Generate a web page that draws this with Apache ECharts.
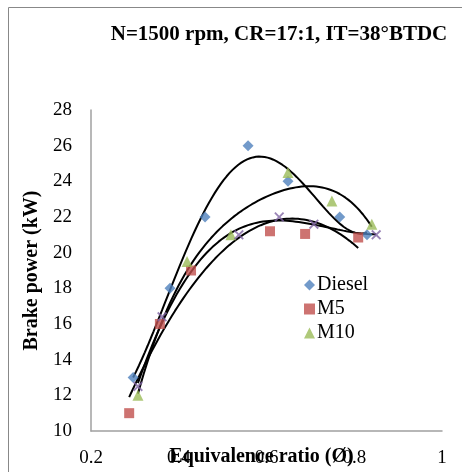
<!DOCTYPE html>
<html>
<head>
<meta charset="utf-8">
<script src="https://cdn.jsdelivr.net/npm/echarts@6/dist/echarts.min.js"></script>
<style>html,body{margin:0;padding:0;background:#fff}#c{width:462px;height:472px}</style>
</head>
<body>
<div id="c"></div>
<script>
var xTicks = ['0.2', '0.4', '0.6', '0.8', '1'];
var yTicks = ['10', '12', '14', '16', '18', '20', '22', '24', '26', '28'];
var dieselX = [0.296, 0.38, 0.46, 0.558, 0.649, 0.767, 0.829];
var dieselY = [13.0, 18.0, 22.0, 26.0, 24.0, 22.0, 21.0];
var m5X = [0.287, 0.357, 0.428, 0.608, 0.688, 0.809];
var m5Y = [11.0, 16.0, 19.0, 21.2, 21.05, 20.85];
var m10X = [0.307, 0.419, 0.519, 0.649, 0.749, 0.84];
var m10Y = [12.0, 19.5, 21.0, 24.5, 22.9, 21.6];
var m15X = [0.307, 0.362, 0.537, 0.629, 0.708, 0.85];
var m15Y = [12.5, 16.4, 21.0, 22.0, 21.6, 21.0];

function polyfit(xs, ys, deg) {
  var n = deg + 1, A = [], i, j, k;
  for (i = 0; i < n; i++) { A.push([]); for (j = 0; j <= n; j++) A[i].push(0); }
  for (k = 0; k < xs.length; k++) {
    for (i = 0; i < n; i++) {
      for (j = 0; j < n; j++) A[i][j] += Math.pow(xs[k], i + j);
      A[i][n] += ys[k] * Math.pow(xs[k], i);
    }
  }
  for (i = 0; i < n; i++) {
    var p = i;
    for (j = i + 1; j < n; j++) if (Math.abs(A[j][i]) > Math.abs(A[p][i])) p = j;
    var t = A[i]; A[i] = A[p]; A[p] = t;
    for (j = i + 1; j < n; j++) {
      var f = A[j][i] / A[i][i];
      for (k = i; k <= n; k++) A[j][k] -= f * A[i][k];
    }
  }
  var c = new Array(n);
  for (i = n - 1; i >= 0; i--) {
    var s = A[i][n];
    for (j = i + 1; j < n; j++) s -= A[i][j] * c[j];
    c[i] = s / A[i][i];
  }
  return c;
}
function trend(xs, ys, deg) {
  var c = polyfit(xs, ys, deg), out = [], a = Math.min.apply(null, xs), b = Math.max.apply(null, xs);
  for (var i = 0; i <= 80; i++) {
    var x = a + (b - a) * i / 80, y = 0;
    for (var j = 0; j < c.length; j++) y += c[j] * Math.pow(x, j);
    out.push([x, y]);
  }
  return out;
}
function pts(xs, ys) { return xs.map(function (x, i) { return [x, ys[i]]; }); }

var font = 'Liberation Serif';
var xPath = 'path://M0,1.3L1.3,0L5,3.7L8.7,0L10,1.3L6.3,5L10,8.7L8.7,10L5,6.3L1.3,10L0,8.7L3.7,5Z';
var chart = echarts.init(document.getElementById('c'));
function lineS(d, col) {
  return { type: 'line', data: d, showSymbol: false, symbol: 'none', silent: true,
    lineStyle: { color: col || '#000', width: 2 }, z: 1 };
}
chart.setOption({
  animation: false,
  title: { text: 'N=1500 rpm, CR=17:1, IT=38°BTDC', left: 274, top: 19, textAlign: 'center',
    textStyle: { fontFamily: font, fontSize: 21, fontWeight: 'bold', color: '#000' } },
  graphic: [{ type: 'rect', shape: { x: 8.5, y: 7.5, width: 470, height: 480 },
    style: { fill: 'none', stroke: '#888', lineWidth: 1 }, silent: true }],
  grid: { left: 91, right: 20, top: 110, bottom: 41, containLabel: false, outerBoundsMode: 'none' },
  legend: { orient: 'vertical', left: 299, top: 270, itemGap: 4, itemWidth: 11, itemHeight: 11,
    data: [{ name: 'Diesel', icon: 'diamond' }, { name: 'M5', icon: 'rect' }, { name: 'M10', icon: 'triangle' }],
    textStyle: { fontFamily: font, fontSize: 20, color: '#000', padding: [0, 0, 0, -3] } },
  xAxis: { type: 'value', min: 0.2, max: 1, interval: 0.2,
    name: 'Equivalence ratio (Ø)', nameLocation: 'middle', nameGap: 16, nameMoveOverlap: false,
    nameTextStyle: { fontFamily: font, fontSize: 20, fontWeight: 'bold', color: '#000', padding: [0, 10, 0, 0] },
    axisLine: { lineStyle: { color: '#A0A0A0', width: 1.5 } }, axisTick: { show: false }, splitLine: { show: false },
    axisLabel: { fontFamily: font, fontSize: 19, color: '#000', margin: 18,
      formatter: function (v) { var s = (Math.round(v * 10) / 10).toString(); return xTicks.indexOf(s) >= 0 ? s : ''; } } },
  yAxis: { type: 'value', min: 10, max: 28, interval: 2,
    name: 'Brake power (kW)', nameLocation: 'middle', nameGap: 49, nameMoveOverlap: false,
    nameTextStyle: { fontFamily: font, fontSize: 20, fontWeight: 'bold', color: '#000' },
    axisLine: { show: true, lineStyle: { color: '#A0A0A0', width: 1.5 } }, axisTick: { show: false }, splitLine: { show: false },
    axisLabel: { fontFamily: font, fontSize: 19, color: '#000', margin: 19,
      formatter: function (v) { var s = String(Math.round(v)); return yTicks.indexOf(s) >= 0 ? s : ''; } } },
  series: [
    { name: 'Diesel', type: 'scatter', data: pts(dieselX, dieselY), symbol: 'diamond', symbolSize: 11, itemStyle: { color: '#4F81BD' }, z: 3 },
    { name: 'M5', type: 'scatter', data: pts(m5X, m5Y), symbol: 'rect', symbolSize: 10, itemStyle: { color: '#C0504D' }, z: 3 },
    { name: 'M10', type: 'scatter', data: pts(m10X, m10Y), symbol: 'triangle', symbolSize: 11, itemStyle: { color: '#9BBB59' }, z: 3 },
    { name: 'M15', type: 'scatter', data: pts(m15X, m15Y), symbol: xPath, symbolSize: 10, itemStyle: { color: '#8064A2' }, z: 3 },
    lineS(trend(dieselX, dieselY, 4)),
    lineS(trend(m10X, m10Y, 4)),
    lineS(trend(m5X, m5Y, 2)),
    lineS(trend(m15X, m15Y, 3))
  ]
});
</script>
</body>
</html>
